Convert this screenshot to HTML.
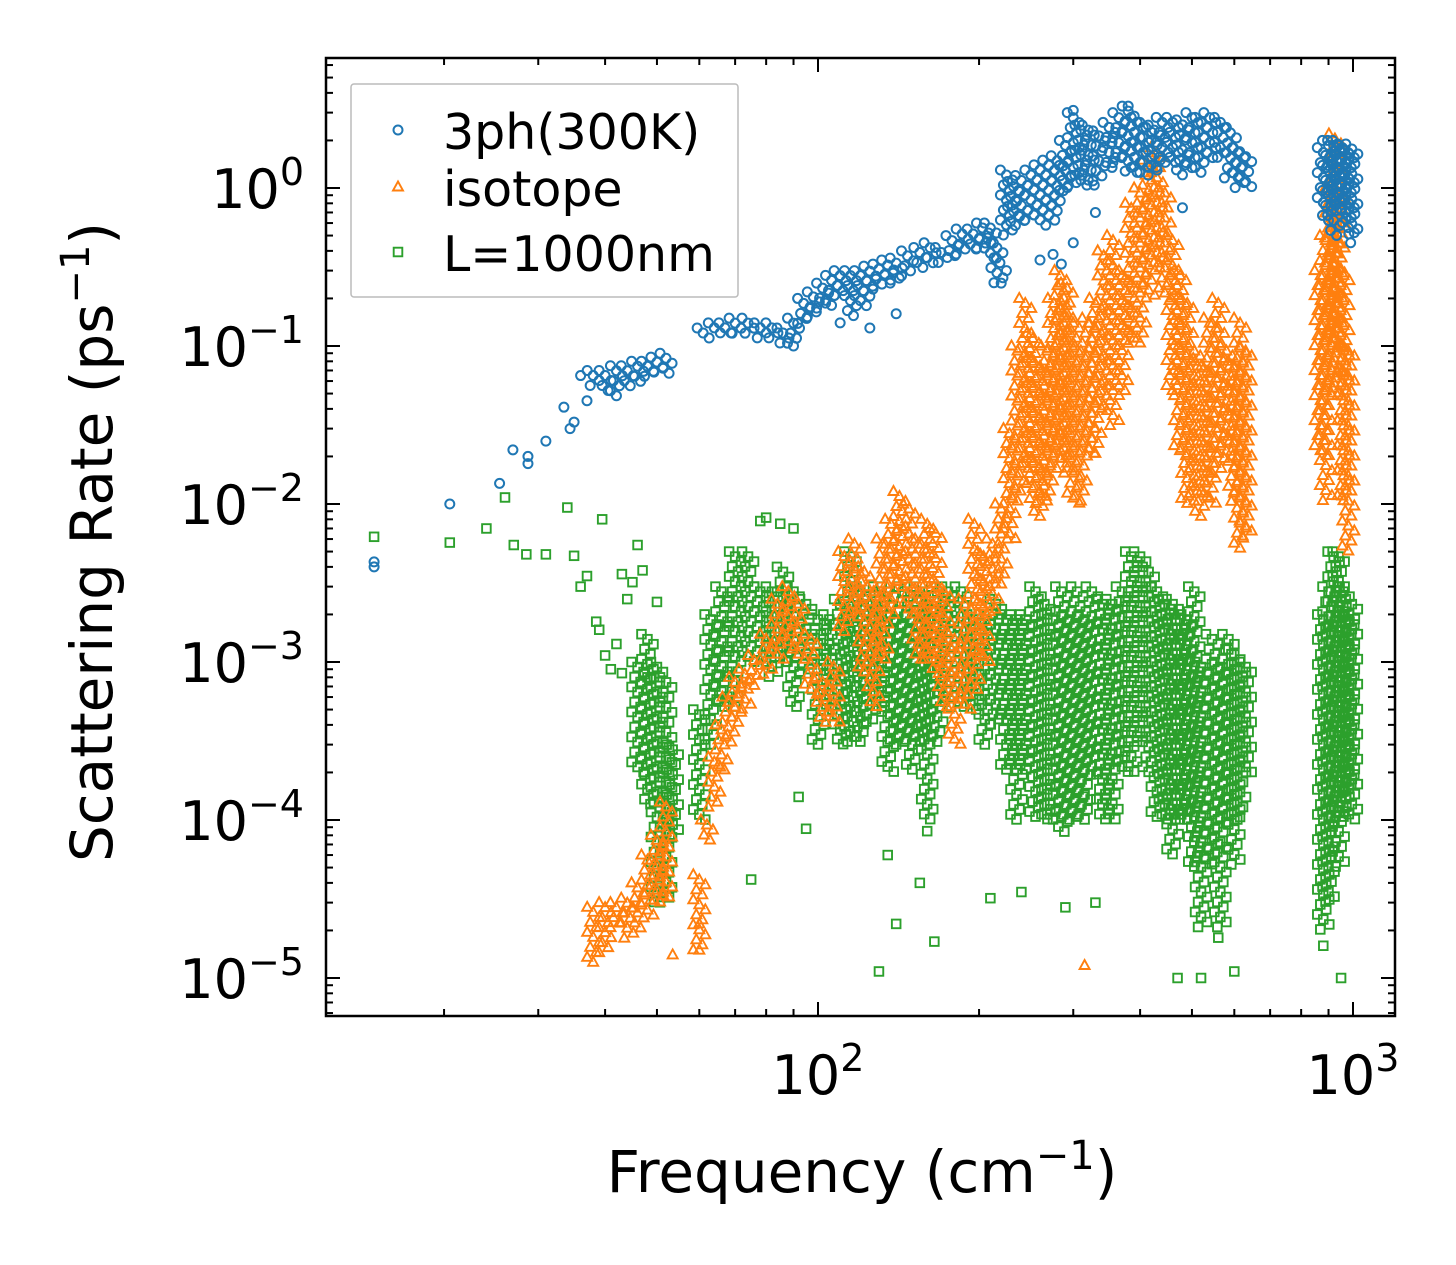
<!DOCTYPE html>
<html><head><meta charset="utf-8"><style>
html,body{margin:0;padding:0;background:#fff;}
svg{display:block;font-family:"DejaVu Sans","Liberation Sans",sans-serif;}
</style></head><body>
<svg id="chart" width="1456" height="1265" viewBox="0 0 1456 1265" xmlns="http://www.w3.org/2000/svg">
<g id="marks"></g>
<g id="axes"></g>
</svg>
<script>
// ---- data ----
const xTickValues=[100,1000];
const xTickExp=["2","3"];
const yTickValues=[1,0.1,0.01,0.001,0.0001,0.00001];
const yTickExp=["0","\u22121","\u22122","\u22123","\u22124","\u22125"];
const seriesNames=["3ph(300K)","isotope","L=1000nm"];

// blue: 3ph(300K) — dense columns [freq, low, high]
const bFreq=[38,40,42,44,46,48,50,52,61,64,67,70,74,78,82,86,90,94,98,102,106,110,115,120,125,130,135,140,147,155,162,170,178,186,195,203,210,216,225,232,240,250,260,270,280,290,300,310,320,335,350,365,380,395,410,425,440,460,480,500,520,540,565,590,610,630,880,900,920,940,960,980,995];
const bLo=[0.055,0.05,0.047,0.055,0.058,0.06,0.065,0.065,0.11,0.115,0.12,0.12,0.12,0.11,0.11,0.1,0.1,0.13,0.15,0.17,0.18,0.2,0.15,0.18,0.2,0.22,0.25,0.25,0.27,0.3,0.32,0.32,0.35,0.38,0.4,0.4,0.35,0.25,0.5,0.6,0.55,0.6,0.6,0.55,0.7,0.9,1,1,1,1.1,1.3,1.4,1.2,1.2,1.2,1.2,1.3,1.4,1.2,1.3,1.2,1.5,1.5,1.1,1,1,0.8,0.6,0.5,0.7,0.7,0.5,0.5];
const bHi=[0.07,0.07,0.075,0.075,0.08,0.08,0.085,0.09,0.13,0.14,0.14,0.15,0.15,0.14,0.14,0.13,0.15,0.2,0.22,0.25,0.28,0.3,0.3,0.3,0.32,0.33,0.35,0.36,0.4,0.42,0.45,0.42,0.5,0.55,0.55,0.6,0.6,0.45,1.3,1.1,1.2,1.3,1.4,1.5,1.6,2,3,2.5,2.5,2.3,2.6,3,3.3,2.8,2.6,2.5,2.8,2.8,2.7,3,2.8,3,2.8,2.4,1.8,1.7,1.8,2,2,2,1.9,1.8,1.9];
const bPtF=[14.8,14.8,20.5,25.4,26.9,28.7,28.7,31,33.5,34.4,35,36,37,225,220,260,275,285,300,330,480,990,125,140,110,90,300,380];
const bPtV=[0.0043,0.004,0.01,0.0135,0.022,0.02,0.018,0.025,0.041,0.03,0.033,0.065,0.045,0.3,0.25,0.35,0.38,0.33,0.45,0.7,0.75,0.45,0.13,0.16,0.14,0.1,3.1,3.3];

// orange: isotope
const oFreq=[38,40,42,44,46,48,50,52,60,62,64,66,68,70,73,76,80,84,88,92,97,102,107,112,117,122,127,132,137,142,148,154,160,166,172,180,188,196,204,212,220,228,236,244,252,260,268,276,284,292,300,310,320,330,342,356,370,385,400,415,430,445,460,475,490,505,520,540,560,580,600,615,630,870,890,910,925,940,960,980];
const oLo=[1.2e-5,1.4e-5,2e-5,1.7e-5,2e-5,2.5e-5,3e-5,3e-5,1.5e-5,7e-5,1.2e-4,2e-4,3e-4,4e-4,5e-4,7e-4,8e-4,1e-3,1.2e-3,1e-3,6e-4,4e-4,4e-4,1.5e-3,2e-3,8e-4,5e-4,1e-3,2e-3,3e-3,2e-3,1e-3,1e-3,8e-4,5e-4,3e-4,5e-4,6e-4,1e-3,2e-3,3e-3,6e-3,1e-2,1.5e-2,1e-2,8e-3,1e-2,1.5e-2,2e-2,1.5e-2,1e-2,1e-2,2e-2,2e-2,4e-2,3e-2,5e-2,0.1,0.1,0.2,0.3,0.2,0.05,0.02,0.01,0.01,0.008,0.01,0.015,0.02,0.01,0.005,0.006,0.02,0.01,0.05,0.1,0.05,0.01,0.005];
const oHi=[2.8e-5,3e-5,3e-5,3.2e-5,4e-5,6e-5,8e-5,1.3e-4,4.5e-5,1e-4,2.5e-4,4e-4,6e-4,8e-4,9e-4,1.1e-3,1.5e-3,2.5e-3,3e-3,2.5e-3,1.5e-3,8e-4,1e-3,5e-3,6e-3,4e-3,3e-3,6e-3,8e-3,1.2e-2,1e-2,6e-3,8e-3,7e-3,3e-3,1.5e-3,2.5e-3,8e-3,5e-3,6e-3,1e-2,0.03,0.1,0.2,0.12,0.08,0.1,0.2,0.3,0.25,0.15,0.1,0.15,0.2,0.4,0.5,0.3,0.8,1,1.5,1.8,1,0.5,0.3,0.2,0.1,0.08,0.15,0.2,0.1,0.08,0.15,0.1,0.3,0.5,1,2.2,1,0.3,0.1];
const oPtF=[53.5,315,60,60];
const oPtV=[1.4e-5,1.2e-5,1.5e-5,2.2e-5];

// green: L=1000nm
const gFreq=[46,48,50,52,53.5,60,63,66,70,74,78,82,86,90,95,100,105,110,115,120,125,130,135,140,145,150,155,160,167,175,185,195,205,215,225,235,245,255,265,275,285,295,305,315,325,340,355,370,385,400,415,430,445,460,475,490,505,520,545,565,585,600,615,630,880,900,920,940,960,980,995];
const gLo=[2e-4,1.2e-4,3e-5,3e-5,8e-5,1e-4,3e-4,5e-4,5e-4,1e-3,1e-3,8e-4,1e-3,5e-4,8e-4,3e-4,5e-4,3e-4,3e-4,3e-4,4e-4,5e-4,2e-4,3e-4,3e-4,2e-4,3e-4,1e-4,3e-4,5e-4,5e-4,5e-4,3e-4,4e-4,2e-4,1e-4,2e-4,1e-4,1e-4,1e-4,8e-5,1e-4,1e-4,1e-4,2e-4,1e-4,1e-4,2e-4,2e-4,3e-4,2e-4,1e-4,1e-4,6e-5,1e-4,1e-4,5e-5,2e-5,5e-5,2e-5,1e-4,5e-5,1e-4,2e-4,2e-5,3e-5,1e-4,5e-5,1e-4,1.5e-4,1e-4];
const gHi=[1e-3,1.5e-3,1e-3,8e-4,3e-4,5e-4,2e-3,3e-3,5e-3,5e-3,3e-3,3e-3,4e-3,3e-3,2.5e-3,2e-3,2e-3,2.5e-3,5e-3,3e-3,2.5e-3,3e-3,3e-3,2e-3,3e-3,2e-3,3e-3,2.5e-3,3e-3,3e-3,3e-3,2e-3,2e-3,2.5e-3,2e-3,2e-3,2e-3,3e-3,2.5e-3,2e-3,3e-3,2e-3,3e-3,2e-3,3e-3,2.5e-3,2.5e-3,3e-3,5e-3,5e-3,4e-3,3e-3,2.5e-3,2.5e-3,2e-3,2e-3,3e-3,1e-3,1.5e-3,1e-3,1.5e-3,1.2e-3,1e-3,1e-3,2e-3,3e-3,5e-3,5e-3,3e-3,2e-3,2.5e-3];
const gPtF=[14.8,20.5,24,26,27,28.5,31,34,35,36,37,38.5,39,39.5,40,41,42,43,44,45,46,47,48,43,50,75,78,80,85,90,92,95,130,135,140,155,160,165,210,240,290,330,470,520,560,600,880,950];
const gPtV=[0.0062,0.0057,0.007,0.011,0.0055,0.0048,0.0048,0.0095,0.0047,0.003,0.0035,0.0018,0.0016,0.008,0.0011,0.0009,0.0013,0.0036,0.0025,0.0032,0.0055,0.0038,0.0008,0.00085,0.0024,4.2e-5,0.0078,0.0082,0.0075,0.007,1.4e-4,8.8e-5,1.1e-5,6e-5,2.2e-5,4e-5,8.5e-5,1.7e-5,3.2e-5,3.5e-5,2.8e-5,3e-5,1e-5,1e-5,1.8e-5,1.1e-5,1.6e-5,1e-5];

// ---- axes ----
const L=326,R=1395,T=58,B=1016;
const X0=818, XD=535, Y0=188, YD=158;
const xs=f=>X0+(Math.log10(f)-2)*XD;
const ys=v=>Y0-Math.log10(v)*YD;
const NS="http://www.w3.org/2000/svg";
const marks=document.getElementById('marks');
const axes=document.getElementById('axes');
function el(tag,attrs,parent){const e=document.createElementNS(NS,tag);for(const k in attrs)e.setAttribute(k,attrs[k]);parent.appendChild(e);return e;}
const colors=["#1f77b4","#ff7f0e","#2ca02c"];
function marker(kind,x,y,parent){
  let e;
  if(kind===0) e=el('circle',{cx:x,cy:y,r:4.5,fill:'none',stroke:colors[0],'stroke-width':2},parent);
  else if(kind===1) e=el('path',{d:`M${x},${y-5.5}L${x+5},${y+3.5}L${x-5},${y+3.5}Z`,fill:'none',stroke:colors[1],'stroke-width':1.9},parent);
  else e=el('rect',{x:x-4.3,y:y-4.3,width:8.6,height:8.6,fill:'none',stroke:colors[2],'stroke-width':1.9},parent);
  return e;
}
function drawSeries(kind,freq,lo,hi,pf,pv,name){
  const g=el('g',{},marks);
  
  
  for(let i=0;i<freq.length;i++){
    const x=xs(freq[i]);
    const y1=ys(hi[i]), y2=ys(lo[i]);
    let k=0;
    for(let y=y1;y<=y2+0.1;y+=5){
      const dx=[-6,0,6,-3,3][k%5];
      const m=marker(kind,x+dx,y,g);
      
      
      k++;
    }
  }
  for(let i=0;i<pf.length;i++){
    const m=marker(kind,xs(pf[i]),ys(pv[i]),g);
    
    
  }
}
drawSeries(2,gFreq,gLo,gHi,gPtF,gPtV,'series-l1000nm');
drawSeries(1,oFreq,oLo,oHi,oPtF,oPtV,'series-isotope');
drawSeries(0,bFreq,bLo,bHi,bPtF,bPtV,'series-3ph');

// frame
const fr=el('rect',{x:L,y:T,width:R-L,height:B-T,fill:'none',stroke:'#000','stroke-width':2.5},axes);


// x ticks
for(let d=1;d<=3;d++){for(let m=1;m<=9;m++){const f=m*Math.pow(10,d);const x=xs(f);if(x<L||x>R)continue;const len=m===1?14:7;
  el('line',{x1:x,y1:B,x2:x,y2:B-len,stroke:'#000','stroke-width':2},axes);
  el('line',{x1:x,y1:T,x2:x,y2:T+len,stroke:'#000','stroke-width':2},axes);}}
for(let i=0;i<xTickValues.length;i++){const t=el('text',{x:xs(xTickValues[i]),y:1094,'font-size':54,'text-anchor':'middle'},axes);
  
  
  t.innerHTML=`10<tspan dy="-23" font-size="38">${xTickExp[i]}</tspan>`;}
// y ticks
for(let d=-6;d<=0;d++){for(let m=1;m<=9;m++){const v=m*Math.pow(10,d);const y=ys(v);if(y<T||y>B)continue;const len=m===1?14:7;
  el('line',{x1:L,y1:y,x2:L+len,y2:y,stroke:'#000','stroke-width':2},axes);
  el('line',{x1:R,y1:y,x2:R-len,y2:y,stroke:'#000','stroke-width':2},axes);}}
for(let i=0;i<yTickValues.length;i++){const t=el('text',{x:304,y:ys(yTickValues[i])+20,'font-size':54,'text-anchor':'end'},axes);
  
  
  t.innerHTML=`10<tspan dy="-23" font-size="38">${yTickExp[i]}</tspan>`;}
// axis titles
const xt=el('text',{x:862,y:1192,'font-size':58,'text-anchor':'middle'},axes);


xt.innerHTML='Frequency (cm<tspan dy="-23" font-size="40">\u22121</tspan><tspan dy="23">)</tspan>';
const yt=el('text',{x:0,y:0,'font-size':58,'text-anchor':'middle',transform:'translate(112,542) rotate(-90)'},axes);


yt.innerHTML='Scattering Rate (ps<tspan dy="-23" font-size="40">\u22121</tspan><tspan dy="23">)</tspan>';
// legend
const lg=el('g',{},axes);


el('rect',{x:351,y:84,width:387,height:213,fill:'#fff','fill-opacity':0.85,stroke:'#bbb','stroke-width':1.5,rx:3},lg);
const ly=[132,189,254];
for(let i=0;i<3;i++){
  const e=el('g',{},lg);
  
  
  marker(i,398,ly[i]-2,e);
  const t=el('text',{x:443,y:ly[i]+17,'font-size':49},e);
  t.textContent=seriesNames[i];
}
</script>
</body></html>
